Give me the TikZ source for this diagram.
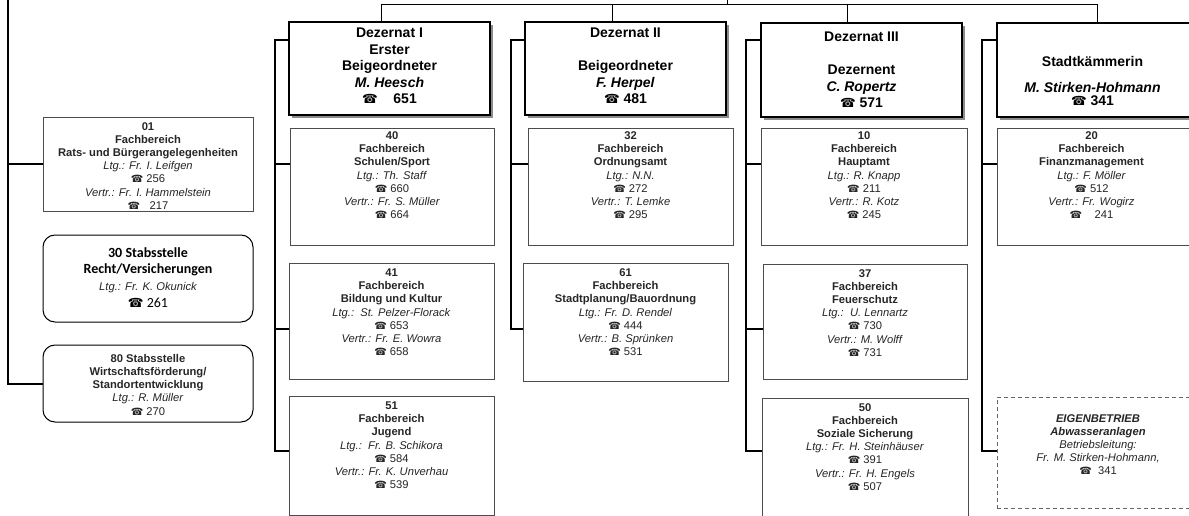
\documentclass[tikz,border=0pt]{standalone}
\usepackage{fontspec}
\setmainfont{Liberation Sans}
\newfontfamily\carlito{Carlito}
\newfontfamily\phonefont[Scale=0.9]{DejaVu Sans}
\usetikzlibrary{calc,shadows}
\newcommand\tel{{\phonefont\mdseries\upshape ☎}}
\tikzset{
  fbox/.style={draw=black!70, line width=0.9pt, fill=white, inner sep=0pt, outer sep=0pt},
  hdbox/.style={draw=black, line width=1.1pt, fill=white, inner sep=0pt, outer sep=0pt,
    drop shadow={shadow xshift=3pt, shadow yshift=-3pt, fill=black!45, opacity=1}},
  rbox/.style={draw=black, line width=1pt, rounded corners=12pt, fill=white, inner sep=0pt, outer sep=0pt},
  ebox/.style={draw=black!60, line width=0.8pt, dash pattern=on 4pt off 3pt, fill=white, inner sep=0pt, outer sep=0pt},
  fbtext/.style={align=center, inner sep=0pt, anchor=north, text=black!85, font=\fontsize{11.2}{13.2}\selectfont},
  hdtext/.style={align=center, inner sep=0pt, anchor=north, font=\bfseries\fontsize{14}{16.5}\selectfont},
  conn/.style={line width=2pt, black},
  topline/.style={line width=0.9pt, black},
}
% #1 style, #2 name, #3 x1, #4 y1, #5 x2, #6 y2
\newcommand\orgbox[6]{%
  \node[#1, anchor=north west, minimum width={(#5-#3)*1pt}, minimum height={(#6-#4)*1pt}] (#2) at (#3,#4) {};}
% #1 number, #2 name, #3 Ltg, #4 tel, #5 Vertr, #6 tel
\newcommand\fbcontent[6]{\textbf{#1}\\\textbf{Fachbereich}\\\textbf{#2}\\\textit{#3}\\\tel\ #4\\\textit{#5}\\\tel\ #6}
\begin{document}
\begin{tikzpicture}[x=1pt,y=-1pt]
\useasboundingbox[fill=white] (0,0) rectangle (1189,516);

% ---------- left column ----------
\orgbox{fbox}{b01}{43}{117}{253}{211}
\node[fbtext] (t01) at ($(b01.north)+(0,5)$) {\fbcontent{01}{Rats- und Bürgerangelegenheiten}{Ltg.: Fr. I. Leifgen}{256}{Vertr.: Fr. I. Hammelstein}{\ \ 217}};
\orgbox{rbox}{b30}{43}{235}{253}{322}
\node[align=center, inner sep=0pt, anchor=north, font=\carlito\bfseries\fontsize{14}{16.7}\selectfont] (t30) at ($(b30.north)+(0,12)$)
  {30 Stabsstelle\\Recht/Versicherungen\\{\rmfamily\mdseries\itshape\fontsize{11.2}{12}\selectfont\color{black!85}Ltg.: Fr. K. Okunick}\\\tel\ \mdseries 261};
\orgbox{rbox}{b80}{43}{345}{253}{422}
\node[fbtext] (t80) at ($(b80.north)+(0,9)$)
  {\textbf{80 Stabsstelle}\\\textbf{Wirtschaftsförderung/}\\\textbf{Standortentwicklung}\\\textit{Ltg.: R. Müller}\\\tel\ 270};

\coordinate (s0) at (8,-2);
\draw[conn] (s0) -- (s0 |- b80.west) -- (b80.west);
\draw[conn] (b01.west) -- (b01.west -| s0);
\draw[conn] ($(b30.west)+(0,2)$) -- ($(b30.west)+(0,2)$ -| s0);

% ---------- headers ----------
\orgbox{hdbox}{hd1}{289}{22}{490}{115}
\orgbox{hdbox}{hd2}{525}{22}{726}{115}
\orgbox{hdbox}{hd3}{761}{23}{962}{117}
\orgbox{hdbox}{hd4}{997}{23}{1200}{117}
\node[hdtext] (th1) at ($(hd1.north)+(0,6)$) {Dezernat I\\Erster\\Beigeordneter\\\textit{M. Heesch}\\\tel\ \ \ \ 651};
\node[hdtext] (th2) at ($(hd2.north)+(0,6)$) {Dezernat II\\[16.5pt]Beigeordneter\\\textit{F. Herpel}\\\tel\ 481};
\node[hdtext] (th3) at ($(hd3.north)+(0,9)$) {Dezernat III\\[16.5pt]Dezernent\\\textit{C. Ropertz}\\\tel\ 571};
\node[hdtext] (th4) at ($(hd4.north)+(-6,33)$) {Stadtkämmerin\\[9.5pt]\textit{M. Stirken-Hohmann}\\[-3.5pt]\tel\ 341};

% top connector
\coordinate (T) at (727,4);
\coordinate (c1) at (381,4);
\coordinate (c2) at (612,4);
\coordinate (c3) at (847,4);
\coordinate (c4) at (1097,4);
\draw[topline] (c1) -- (c4);
\draw[topline] (T) -- ++(0,-6);
\draw[topline] (c1) -- (c1 |- hd1.north);
\draw[topline] (c2) -- (c2 |- hd2.north);
\draw[topline] (c3) -- (c3 |- hd3.north);
\draw[topline] (c4) -- (c4 |- hd4.north);

% ---------- column 1 ----------
\orgbox{fbox}{b40}{290}{128}{494}{245}
\orgbox{fbox}{b41}{289}{263}{494}{379}
\orgbox{fbox}{b51}{289}{396}{494}{515}
\node[fbtext] (t40) at ($(b40.north)+(0,3.5)$) {\fbcontent{40}{Schulen/Sport}{Ltg.: Th. Staff}{660}{Vertr.: Fr. S. Müller}{664}};
\node[fbtext] (t41) at ($(b41.north)+(0,5.5)$) {\fbcontent{41}{Bildung und Kultur}{Ltg.:\ \ St. Pelzer-Florack}{653}{Vertr.: Fr. E. Wowra}{658}};
\node[fbtext] (t51) at ($(b51.north)+(0,5.5)$) {\fbcontent{51}{Jugend}{Ltg.:\ \ Fr. B. Schikora}{584}{Vertr.: Fr. K. Unverhau}{539}};
\coordinate (s1) at (275,0);
\coordinate (h1s) at ($(hd1.north west)+(0,18)$);
\coordinate (b40s) at ($(b40.north west)+(0,36)$);
\coordinate (b41s) at ($(b41.north west)+(0,66)$);
\coordinate (b51s) at ($(b51.north west)+(0,55)$);
\draw[conn] (h1s) -- (h1s -| s1) -- (b51s -| s1) -- (b51s);
\draw[conn] (b40s) -- (b40s -| s1);
\draw[conn] (b41s) -- (b41s -| s1);

% ---------- column 2 ----------
\orgbox{fbox}{b32}{528}{128}{733}{245}
\orgbox{fbox}{b61}{523}{263}{728}{381}
\node[fbtext] (t32) at ($(b32.north)+(0,3.5)$) {\fbcontent{32}{Ordnungsamt}{Ltg.: N.N.}{272}{Vertr.: T. Lemke}{295}};
\node[fbtext] (t61) at ($(b61.north)+(0,5.5)$) {\fbcontent{61}{Stadtplanung/Bauordnung}{Ltg.: Fr. D. Rendel}{444}{Vertr.: B. Sprünken}{531}};
\coordinate (s2) at (511,0);
\coordinate (h2s) at ($(hd2.north west)+(0,18)$);
\coordinate (b32s) at ($(b32.north west)+(0,36)$);
\coordinate (b61s) at ($(b61.north west)+(0,66)$);
\draw[conn] (h2s) -- (h2s -| s2) -- (b61s -| s2) -- (b61s);
\draw[conn] (b32s) -- (b32s -| s2);

% ---------- column 3 ----------
\orgbox{fbox}{b10}{761}{128}{967}{245}
\orgbox{fbox}{b37}{763}{264}{967}{379}
\orgbox{fbox}{b50}{762}{398}{968}{530}
\node[fbtext] (t10) at ($(b10.north)+(0,3.5)$) {\fbcontent{10}{Hauptamt}{Ltg.: R. Knapp}{211}{Vertr.: R. Kotz}{245}};
\node[fbtext] (t37) at ($(b37.north)+(0,5)$) {\fbcontent{37}{Feuerschutz}{Ltg.:\ \ U. Lennartz}{730}{Vertr.: M. Wolff}{731}};
\node[fbtext] (t50) at ($(b50.north)+(0,5)$) {\fbcontent{50}{Soziale Sicherung}{Ltg.: Fr. H. Steinhäuser}{391}{Vertr.: Fr. H. Engels}{507}};
\coordinate (s3) at (746,0);
\coordinate (h3s) at ($(hd3.north west)+(0,17)$);
\coordinate (b10s) at ($(b10.north west)+(0,36)$);
\coordinate (b37s) at ($(b37.north west)+(0,65)$);
\coordinate (b50s) at ($(b50.north west)+(0,53)$);
\draw[conn] (h3s) -- (h3s -| s3) -- (b50s -| s3) -- (b50s);
\draw[conn] (b10s) -- (b10s -| s3);
\draw[conn] (b37s) -- (b37s -| s3);

% ---------- column 4 ----------
\orgbox{fbox}{b20}{997}{128}{1200}{245}
\orgbox{ebox}{eb}{997}{397}{1199}{508}
\node[fbtext] (t20) at ($(b20.north)+(-7,3.5)$) {\fbcontent{20}{Finanzmanagement}{Ltg.: F. Möller}{512}{Vertr.: Fr. Wogirz}{\ \ \ 241}};
\node[fbtext] (teb) at ($(eb.north)+(0,17)$) {\textbf{\textit{EIGENBETRIEB}}\\\textbf{\textit{Abwasseranlagen}}\\\textit{Betriebsleitung:}\\\textit{Fr. M. Stirken-Hohmann,}\\\tel\ \ 341};
\coordinate (s4) at (982,0);
\coordinate (h4s) at ($(hd4.north west)+(0,17)$);
\coordinate (b20s) at ($(b20.north west)+(0,36)$);
\coordinate (ebs) at ($(eb.north west)+(0,54)$);
\draw[conn] (h4s) -- (h4s -| s4) -- (ebs -| s4) -- (ebs);
\draw[conn] (b20s) -- (b20s -| s4);
\end{tikzpicture}
\end{document}
